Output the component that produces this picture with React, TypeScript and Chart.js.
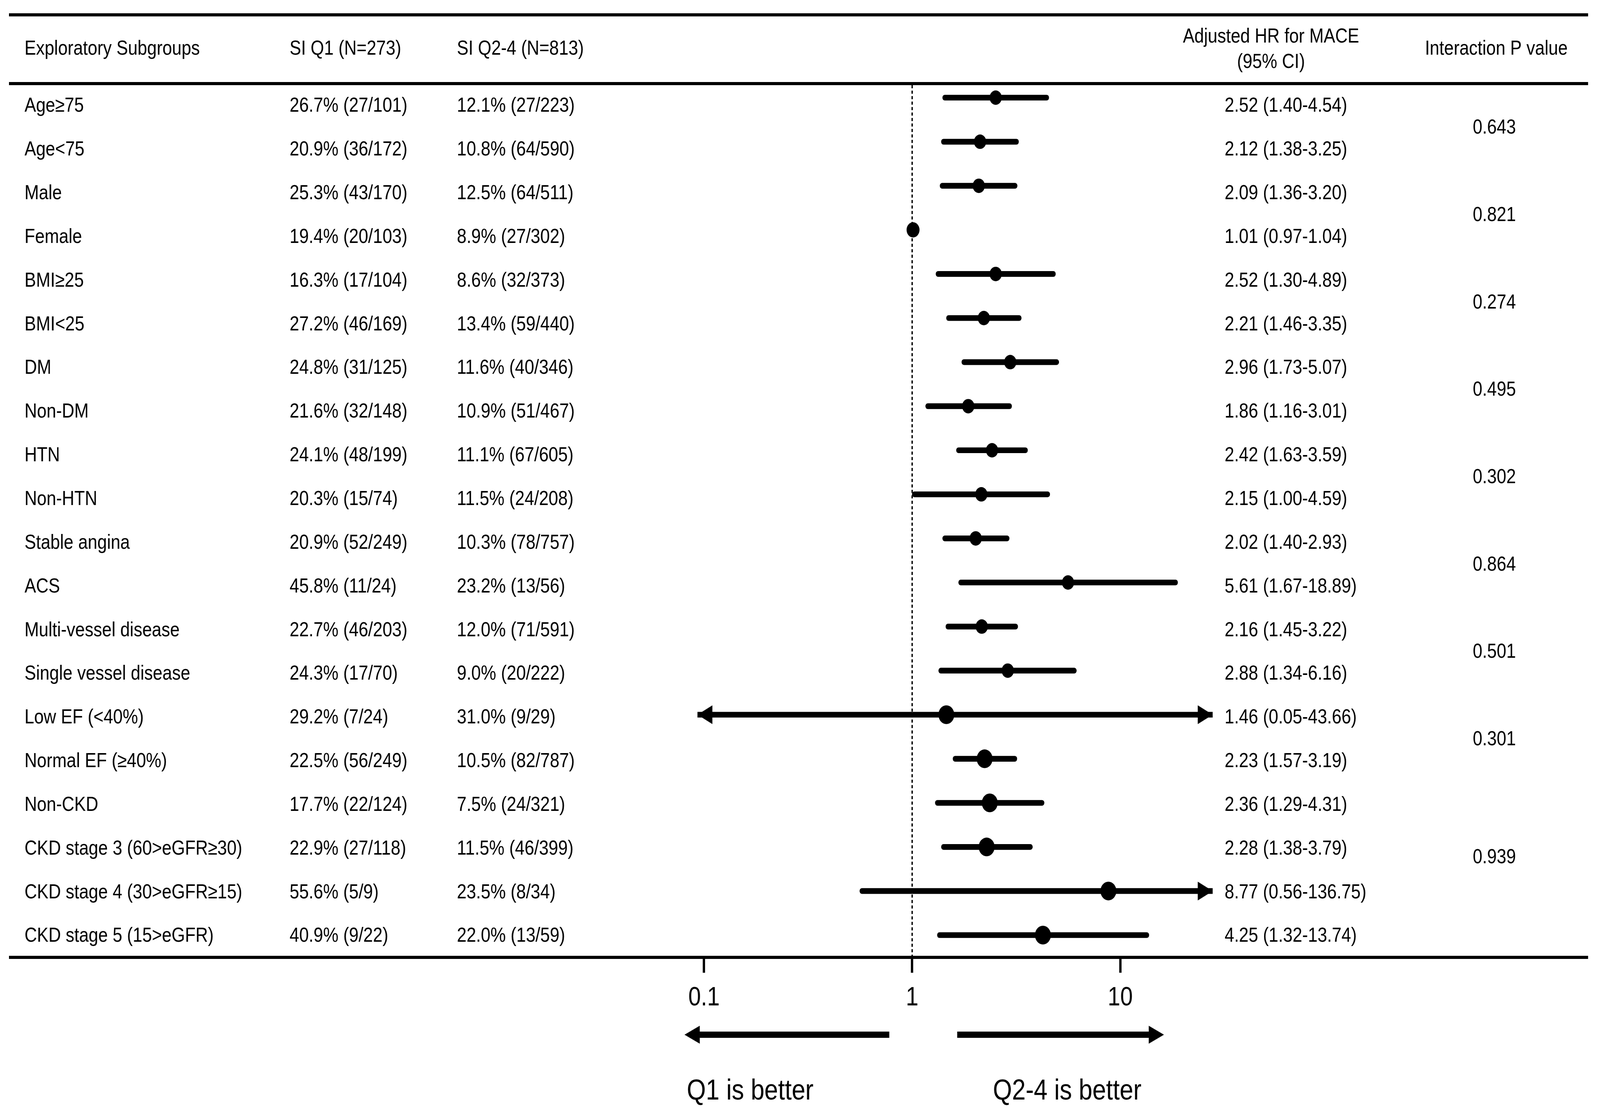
import { useEffect, useRef } from 'react';
import { Chart, registerables } from 'chart.js';

Chart.register(...registerables);

// ---------------- DATA ----------------
const subgroups = [
  'Age≥75',
  'Age<75',
  'Male',
  'Female',
  'BMI≥25',
  'BMI<25',
  'DM',
  'Non-DM',
  'HTN',
  'Non-HTN',
  'Stable angina',
  'ACS',
  'Multi-vessel disease',
  'Single vessel disease',
  'Low EF (<40%)',
  'Normal EF (≥40%)',
  'Non-CKD',
  'CKD stage 3 (60>eGFR≥30)',
  'CKD stage 4 (30>eGFR≥15)',
  'CKD stage 5 (15>eGFR)',
];

const q1Events = [
  '26.7% (27/101)', '20.9% (36/172)', '25.3% (43/170)', '19.4% (20/103)',
  '16.3% (17/104)', '27.2% (46/169)', '24.8% (31/125)', '21.6% (32/148)',
  '24.1% (48/199)', '20.3% (15/74)', '20.9% (52/249)', '45.8% (11/24)',
  '22.7% (46/203)', '24.3% (17/70)', '29.2% (7/24)', '22.5% (56/249)',
  '17.7% (22/124)', '22.9% (27/118)', '55.6% (5/9)', '40.9% (9/22)',
];

const q24Events = [
  '12.1% (27/223)', '10.8% (64/590)', '12.5% (64/511)', '8.9% (27/302)',
  '8.6% (32/373)', '13.4% (59/440)', '11.6% (40/346)', '10.9% (51/467)',
  '11.1% (67/605)', '11.5% (24/208)', '10.3% (78/757)', '23.2% (13/56)',
  '12.0% (71/591)', '9.0% (20/222)', '31.0% (9/29)', '10.5% (82/787)',
  '7.5% (24/321)', '11.5% (46/399)', '23.5% (8/34)', '22.0% (13/59)',
];

const hazardRatio = [2.52, 2.12, 2.09, 1.01, 2.52, 2.21, 2.96, 1.86, 2.42, 2.15, 2.02, 5.61, 2.16, 2.88, 1.46, 2.23, 2.36, 2.28, 8.77, 4.25];
const ciLower = [1.40, 1.38, 1.36, 0.97, 1.30, 1.46, 1.73, 1.16, 1.63, 1.00, 1.40, 1.67, 1.45, 1.34, 0.05, 1.57, 1.29, 1.38, 0.56, 1.32];
const ciUpper = [4.54, 3.25, 3.20, 1.04, 4.89, 3.35, 5.07, 3.01, 3.59, 4.59, 2.93, 18.89, 3.22, 6.16, 43.66, 3.19, 4.31, 3.79, 136.75, 13.74];

const interactionP = ['0.643', '0.821', '0.274', '0.495', '0.302', '0.864', '0.501', '0.301', '0.939'];

const xTicks = [0.1, 1, 10];
const xTickLabels = ['0.1', '1', '10'];

const headerSubgroup = 'Exploratory Subgroups';
const headerQ1 = 'SI Q1 (N=273)';
const headerQ24 = 'SI Q2-4 (N=813)';
const headerHR1 = 'Adjusted HR for MACE';
const headerHR2 = '(95% CI)';
const headerP = 'Interaction P value';
const labelLeft = 'Q1 is better';
const labelRight = 'Q2-4 is better';

// ---------------- LAYOUT / STYLE ----------------
const W = 4829;
const H = 2852;
const FONT = '"Liberation Sans", Arial, Helvetica, sans-serif';

const L = {
  ruleLeft: 27,
  ruleRight: 4793,
  ruleW: 8,
  topRuleY: 38,
  headRuleY: 214,
  bottomRuleY: 2451,
  colX: [74, 874, 1379],
  hrX: 3696,
  hrHeadX: 3836,
  pX: 4510,
  pHeadX: 4516,
  textRow0: 272,
  textStep: 111.85,
  headY: 126,
  hrHead1Y: 95,
  hrHead2Y: 160,
  plotLeft: 2105,
  plotRight: 3660,
  plotTop: 193.6,
  plotBottom: 2450.4,
  xMin: 0.093,
  xMax: 27.8,
  fontSize: 52,
  pValueRowAnchor: [0.5, 2.5, 4.5, 6.5, 8.5, 10.5, 12.5, 14.5, 17.2],
};

const markerRadius = (i: number) => (i >= 14 ? 24 : i === 3 ? 19.5 : 18.5);

const fmt = (v: number) => v.toFixed(2);

function drawHead(ctx: CanvasRenderingContext2D, tipX: number, y: number, dir: number, len: number, half: number) {
  ctx.beginPath();
  ctx.moveTo(tipX, y);
  ctx.lineTo(tipX - dir * len, y - half);
  ctx.lineTo(tipX - dir * len, y + half);
  ctx.closePath();
  ctx.fill();
}

const forestPlugin = {
  id: 'forestTable',
  beforeDraw(chart: any) {
    const ctx = chart.ctx as CanvasRenderingContext2D;
    ctx.save();
    ctx.fillStyle = '#ffffff';
    ctx.fillRect(0, 0, chart.width, chart.height);
    ctx.restore();
  },
  beforeDatasetsDraw(chart: any) {
    const ctx = chart.ctx as CanvasRenderingContext2D;
    const x1 = chart.scales.x.getPixelForValue(1);
    ctx.save();
    ctx.strokeStyle = '#000';
    ctx.lineWidth = 4;
    ctx.setLineDash([8, 6]);
    ctx.beginPath();
    ctx.moveTo(x1, L.headRuleY + 4);
    ctx.lineTo(x1, L.bottomRuleY - 4);
    ctx.stroke();
    ctx.restore();
  },
  afterDatasetsDraw(chart: any) {
    const ctx = chart.ctx as CanvasRenderingContext2D;
    const xs = chart.scales.x;
    const ys = chart.scales.y;
    const area = chart.chartArea;
    ctx.save();
    ctx.fillStyle = '#000';
    subgroups.forEach((_, i) => {
      const y = ys.getPixelForValue(i);
      if (ciLower[i] < xs.min) drawHead(ctx, area.left, y, -1, 45, 24);
      if (ciUpper[i] > xs.max) drawHead(ctx, area.right, y, 1, 45, 24);
    });
    ctx.restore();
  },
  afterDraw(chart: any) {
    const ctx = chart.ctx as CanvasRenderingContext2D;
    const x1 = chart.scales.x.getPixelForValue(1);
    ctx.save();
    ctx.fillStyle = '#000';
    // rules
    [L.topRuleY, L.headRuleY, L.bottomRuleY].forEach((y) => {
      ctx.fillRect(L.ruleLeft, y - L.ruleW / 2, L.ruleRight - L.ruleLeft, L.ruleW);
    });
    // headers
    ctx.font = `${L.fontSize}px ${FONT}`;
    ctx.textBaseline = 'middle';
    ctx.textAlign = 'left';
    ctx.fillText(headerSubgroup, L.colX[0], L.headY);
    ctx.fillText(headerQ1, L.colX[1], L.headY);
    ctx.fillText(headerQ24, L.colX[2], L.headY);
    ctx.textAlign = 'center';
    ctx.fillText(headerHR1, L.hrHeadX, L.hrHead1Y);
    ctx.fillText(headerHR2, L.hrHeadX, L.hrHead2Y);
    ctx.fillText(headerP, L.pHeadX, L.headY);
    // rows
    ctx.textAlign = 'left';
    subgroups.forEach((name, i) => {
      const y = L.textRow0 + i * L.textStep;
      ctx.fillText(name, L.colX[0], y);
      ctx.fillText(q1Events[i], L.colX[1], y);
      ctx.fillText(q24Events[i], L.colX[2], y);
      ctx.fillText(`${fmt(hazardRatio[i])} (${fmt(ciLower[i])}-${fmt(ciUpper[i])})`, L.hrX, y);
    });
    // interaction p values
    ctx.textAlign = 'center';
    interactionP.forEach((p, k) => {
      const y = L.textRow0 + L.pValueRowAnchor[k] * L.textStep;
      ctx.fillText(p, L.pX, y);
    });
    // direction arrows
    const ay = 2649;
    ctx.fillRect(x1 - 641, ay - 8, 641 - 69, 16);
    drawHead(ctx, x1 - 687, ay, -1, 46, 23);
    ctx.fillRect(x1 + 136, ay - 8, 714 - 136, 16);
    drawHead(ctx, x1 + 760, ay, 1, 46, 23);
    ctx.font = `74px ${FONT}`;
    ctx.fillText(labelLeft, x1 - 489, 2795);
    ctx.fillText(labelRight, x1 + 468, 2795);
    ctx.restore();
  },
};

export default function App() {
  const ref = useRef<HTMLCanvasElement>(null);

  useEffect(() => {
    const canvas = ref.current;
    if (!canvas) return;
    Chart.defaults.font.family = FONT;
    const chart = new Chart(canvas, {
      type: 'bar',
      data: {
        labels: subgroups,
        datasets: [
          {
            type: 'bar',
            indexAxis: 'y',
            data: ciLower.map((lo, i) => [lo, ciUpper[i]]),
            backgroundColor: '#000',
            borderWidth: 0,
            barThickness: 14,
            borderRadius: 7,
            borderSkipped: false,
            clip: 0,
            order: 1,
          } as any,
          {
            type: 'scatter',
            data: hazardRatio.map((v, i) => ({ x: v, y: subgroups[i] })),
            backgroundColor: '#000',
            borderWidth: 0,
            pointRadius: (c: any) => markerRadius(c.dataIndex),
            pointHoverRadius: (c: any) => markerRadius(c.dataIndex),
            order: 0,
          } as any,
        ],
      },
      options: {
        responsive: false,
        maintainAspectRatio: false,
        animation: false,
        devicePixelRatio: 1,
        events: [],
        layout: {
          padding: { left: L.plotLeft, right: W - L.plotRight, top: L.plotTop, bottom: 0 },
        },
        plugins: { legend: { display: false }, tooltip: { enabled: false } },
        scales: {
          x: {
            type: 'logarithmic',
            position: 'bottom',
            min: L.xMin,
            max: L.xMax,
            offset: false,
            beginAtZero: false,
            afterBuildTicks: (scale: any) => {
              scale.ticks = xTicks.map((v) => ({ value: v }));
            },
            afterFit: (scale: any) => {
              scale.height = H - L.plotBottom;
            },
            border: { display: false },
            grid: {
              display: true,
              offset: false,
              drawOnChartArea: false,
              drawTicks: true,
              tickLength: 40,
              color: '#000',
              tickColor: '#000',
              tickWidth: 7,
            },
            ticks: {
              autoSkip: false,
              maxRotation: 0,
              padding: 24,
              color: '#000',
              font: { size: 68, family: FONT },
              callback: (v: any) => {
                const i = xTicks.indexOf(Number(v));
                return i >= 0 ? xTickLabels[i] : '';
              },
            },
          },
          y: {
            type: 'category',
            display: false,
            offset: true,
            grid: { display: false, offset: true },
          },
        },
      } as any,
      plugins: [forestPlugin],
    });
    return () => chart.destroy();
  }, []);

  return (
    <div style={{ position: 'fixed', left: 0, top: 0, width: '100vw', height: '100vh', overflow: 'hidden', background: '#fff' }}>
      <canvas ref={ref} width={W} height={H} style={{ display: 'block', width: '100vw', height: '100vh' }} />
    </div>
  );
}
